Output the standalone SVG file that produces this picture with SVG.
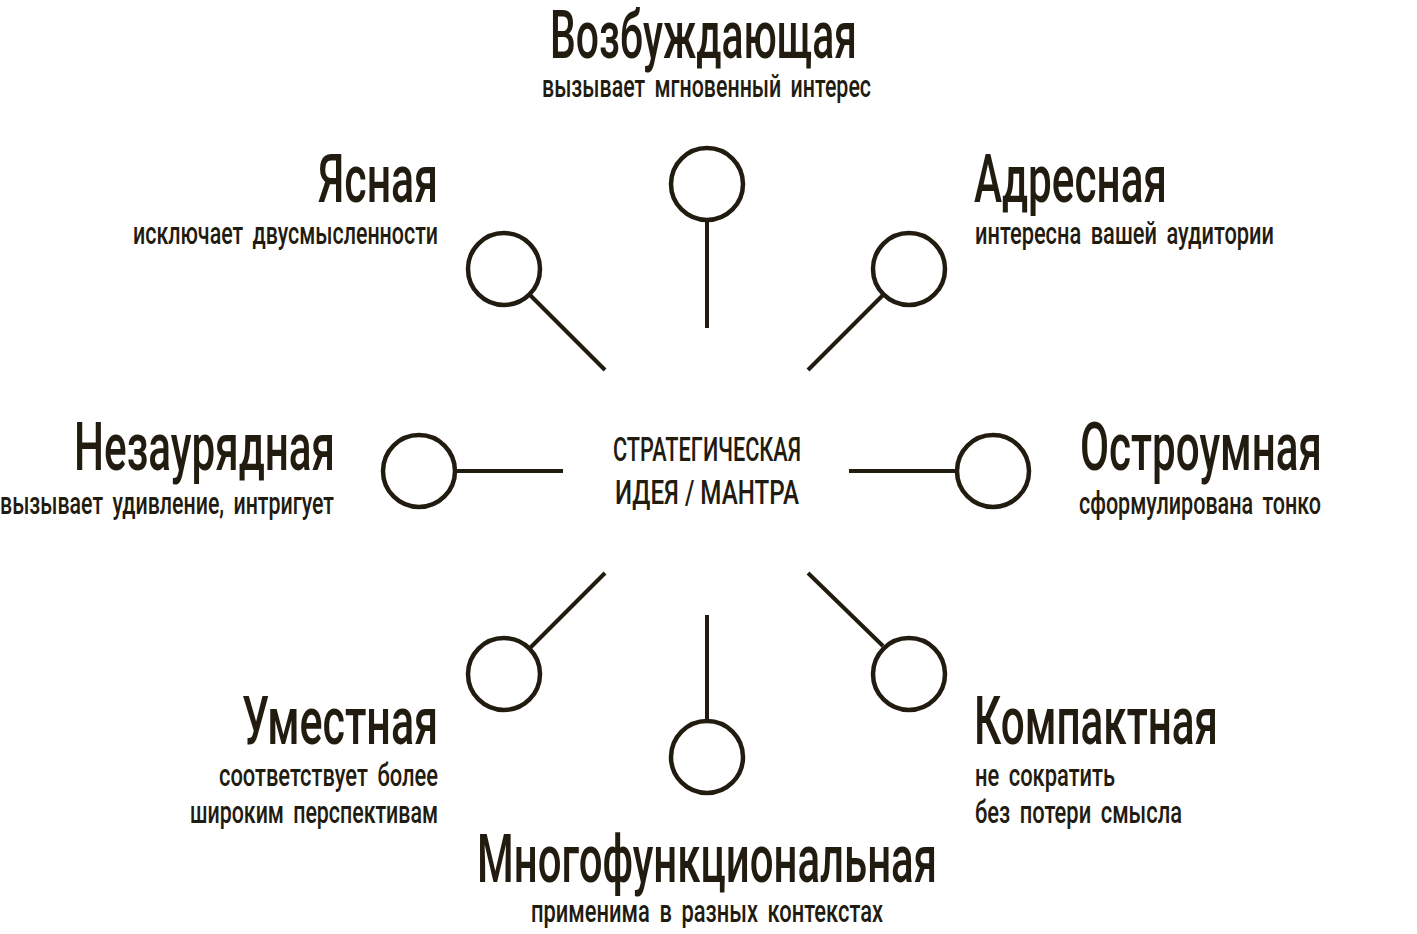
<svg xmlns="http://www.w3.org/2000/svg" width="1417" height="934" viewBox="0 0 1417 934">
<style>
.bg{fill:#ffffff}
.t{font-family:Roboto,"Liberation Sans",sans-serif;font-size:66px;fill:#221b10;font-weight:500}
.s{font-family:Roboto,"Liberation Sans",sans-serif;font-size:32px;fill:#221b10;font-weight:500;word-spacing:6px}
.c{font-family:Roboto,"Liberation Sans",sans-serif;font-size:34px;fill:#221b10;font-weight:500}
.ring{fill:none;stroke:#221b10;stroke-width:4.5}
.ln{stroke:#221b10;stroke-width:4;fill:none}
</style>
<rect class="bg" x="0" y="0" width="1417" height="934"/>
<g id="connectors">
<line class="ln" x1="707" y1="222" x2="707" y2="328"/>
<line class="ln" x1="530" y1="295" x2="605" y2="370"/>
<line class="ln" x1="883" y1="295" x2="808" y2="370"/>
<line class="ln" x1="457" y1="471" x2="563" y2="471"/>
<line class="ln" x1="955" y1="471" x2="849" y2="471"/>
<line class="ln" x1="530" y1="648" x2="605" y2="573"/>
<line class="ln" x1="707" y1="720" x2="707" y2="615"/>
<line class="ln" x1="883" y1="646" x2="808" y2="573"/>
</g>
<g id="center">
<text class="c" x="613" y="461" textLength="188" lengthAdjust="spacingAndGlyphs">СТРАТЕГИЧЕСКАЯ</text>
<text class="c" x="615" y="504" textLength="184" lengthAdjust="spacingAndGlyphs">ИДЕЯ / МАНТРА</text>
</g>
<g id="node-top">
<circle class="ring" cx="707" cy="184" r="36"/>
<text class="t" x="550" y="58" textLength="307" lengthAdjust="spacingAndGlyphs">Возбуждающая</text>
<text class="s" x="542" y="97" textLength="329" lengthAdjust="spacingAndGlyphs">вызывает мгновенный интерес</text>
</g>
<g id="node-top-left">
<circle class="ring" cx="504" cy="269" r="36"/>
<text class="t" x="318" y="202" textLength="120" lengthAdjust="spacingAndGlyphs">Ясная</text>
<text class="s" x="133" y="244" textLength="305" lengthAdjust="spacingAndGlyphs">исключает двусмысленности</text>
</g>
<g id="node-top-right">
<circle class="ring" cx="909" cy="269" r="36"/>
<text class="t" x="974" y="202" textLength="193" lengthAdjust="spacingAndGlyphs">Адресная</text>
<text class="s" x="975" y="244" textLength="299" lengthAdjust="spacingAndGlyphs">интересна вашей аудитории</text>
</g>
<g id="node-left">
<circle class="ring" cx="419" cy="471" r="36"/>
<text class="t" x="74" y="470" textLength="261" lengthAdjust="spacingAndGlyphs">Незаурядная</text>
<text class="s" x="0" y="514" textLength="334" lengthAdjust="spacingAndGlyphs">вызывает удивление, интригует</text>
</g>
<g id="node-right">
<circle class="ring" cx="993" cy="471" r="36"/>
<text class="t" x="1080" y="470" textLength="242" lengthAdjust="spacingAndGlyphs">Остроумная</text>
<text class="s" x="1079" y="514" textLength="242" lengthAdjust="spacingAndGlyphs">сформулирована тонко</text>
</g>
<g id="node-bottom-left">
<circle class="ring" cx="504" cy="674" r="36"/>
<text class="t" x="242" y="744" textLength="196" lengthAdjust="spacingAndGlyphs">Уместная</text>
<text class="s" x="219" y="786" textLength="219" lengthAdjust="spacingAndGlyphs">соответствует более</text>
<text class="s" x="190" y="823" textLength="248" lengthAdjust="spacingAndGlyphs">широким перспективам</text>
</g>
<g id="node-bottom">
<circle class="ring" cx="707" cy="757" r="36"/>
<text class="t" x="477" y="882" textLength="460" lengthAdjust="spacingAndGlyphs">Многофункциональная</text>
<text class="s" x="531" y="922" textLength="352" lengthAdjust="spacingAndGlyphs">применима в разных контекстах</text>
</g>
<g id="node-bottom-right">
<circle class="ring" cx="909" cy="674" r="36"/>
<text class="t" x="974" y="744" textLength="244" lengthAdjust="spacingAndGlyphs">Компактная</text>
<text class="s" x="975" y="786" textLength="140" lengthAdjust="spacingAndGlyphs">не сократить</text>
<text class="s" x="975" y="823" textLength="207" lengthAdjust="spacingAndGlyphs">без потери смысла</text>
</g>
</svg>
